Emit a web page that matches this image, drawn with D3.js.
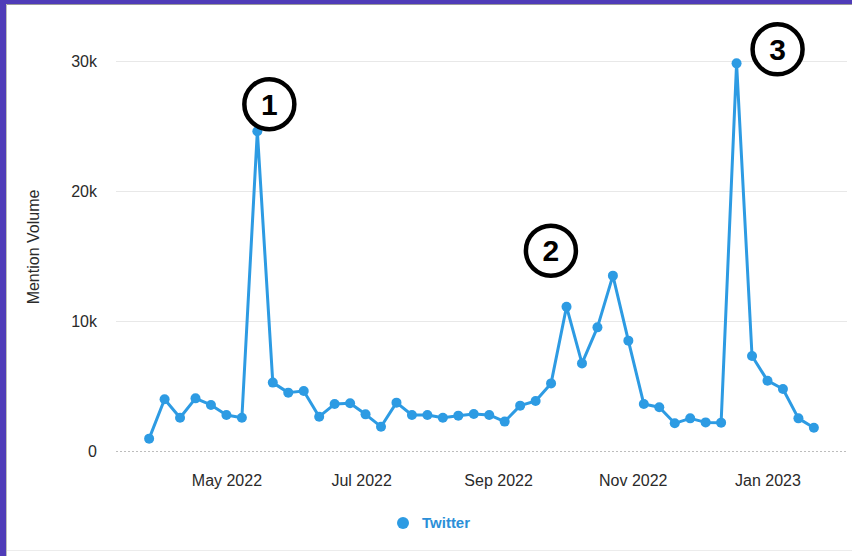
<!DOCTYPE html>
<html>
<head>
<meta charset="utf-8">
<script src="https://cdn.jsdelivr.net/npm/d3@7"></script>
<style>
  html, body { margin: 0; padding: 0; background: #fff; }
  svg { display: block; font-family: "Liberation Sans", Arial, Helvetica, sans-serif; }
</style>
</head>
<body>
<svg id="chart" width="852" height="556"></svg>
<script>
// Weekly Twitter mention volume
const weeks = [
  "2022-03-27", "2022-04-03", "2022-04-10", "2022-04-17", "2022-04-24",
  "2022-05-01", "2022-05-08", "2022-05-15", "2022-05-22", "2022-05-29",
  "2022-06-05", "2022-06-12", "2022-06-19", "2022-06-26",
  "2022-07-03", "2022-07-10", "2022-07-17", "2022-07-24", "2022-07-31",
  "2022-08-07", "2022-08-14", "2022-08-21", "2022-08-28",
  "2022-09-04", "2022-09-11", "2022-09-18", "2022-09-25",
  "2022-10-02", "2022-10-09", "2022-10-16", "2022-10-23", "2022-10-30",
  "2022-11-06", "2022-11-13", "2022-11-20", "2022-11-27",
  "2022-12-04", "2022-12-11", "2022-12-18", "2022-12-25",
  "2023-01-01", "2023-01-08", "2023-01-15", "2023-01-22"
];
const twitter = [
  950, 3980, 2560, 4050, 3540,
  2770, 2560, 24600, 5260, 4490,
  4620, 2640, 3610, 3670,
  2820, 1870, 3720, 2770, 2770,
  2560, 2720, 2850, 2770,
  2260, 3490, 3850, 5200,
  11100, 6740, 9510, 13490, 8490,
  3610, 3360, 2130, 2510,
  2200, 2180, 29820, 7310,
  5410, 4770, 2510, 1790
];
const seriesName = "Twitter";
const yTicks = [0, 10000, 20000, 30000];
const xTicks = ["2022-05-01", "2022-07-01", "2022-09-01", "2022-11-01", "2023-01-01"];
const yTitle = "Mention Volume";
// numbered call-outs: which week each one marks
const callouts = [
  { label: "1", week: "2022-05-15" },
  { label: "2", week: "2022-10-23" },
  { label: "3", week: "2022-12-18" }
];

const parse = d3.utcParse("%Y-%m-%d");
const data = weeks.map((w, i) => ({ date: parse(w), value: twitter[i] }));

const svg = d3.select("#chart");
const blue = "#2d9be3";

// card frame
svg.append("rect").attr("x", 0).attr("y", 0).attr("width", 852).attr("height", 556).attr("fill", "#fff");
svg.append("line").attr("x1", 0).attr("x2", 852).attr("y1", 550.5).attr("y2", 550.5)
  .attr("stroke", "#ececec").attr("stroke-width", 1);
svg.append("rect").attr("x", 0).attr("y", 0).attr("width", 852).attr("height", 4).attr("fill", "#4f3cb8");
svg.append("rect").attr("x", 0).attr("y", 0).attr("width", 6).attr("height", 556).attr("fill", "#4f3cb8");
svg.append("line").attr("x1", 6).attr("x2", 852).attr("y1", 4.5).attr("y2", 4.5)
  .attr("stroke", "#9a9a9a").attr("stroke-width", 1);
svg.append("line").attr("x1", 6.5).attr("x2", 6.5).attr("y1", 4).attr("y2", 556)
  .attr("stroke", "#bdbdbd").attr("stroke-width", 1);

const x = d3.scaleUtc()
  .domain([parse("2022-03-12"), parse("2023-02-06")])
  .range([116, 847]);
const y = d3.scaleLinear().domain([0, 30000]).range([451, 61]);

// horizontal grid
const grid = svg.append("g");
grid.selectAll("line").data(yTicks).join("line")
  .attr("x1", 116).attr("x2", 847)
  .attr("y1", d => Math.round(y(d)) + 0.5).attr("y2", d => Math.round(y(d)) + 0.5)
  .attr("stroke", d => d === 0 ? "#bdbdbd" : "#e8e8e8")
  .attr("stroke-width", 1)
  .attr("stroke-dasharray", d => d === 0 ? "2,2" : null);

// y axis labels
const yAxis = d3.axisLeft(y).tickValues(yTicks)
  .tickFormat(d => d === 0 ? "0" : (d / 1000) + "k")
  .tickSize(0).tickPadding(0);
svg.append("g").attr("transform", "translate(97,0)").call(yAxis)
  .call(g => g.select(".domain").remove())
  .call(g => g.selectAll("text")
    .attr("fill", "#2a2a2a").attr("font-size", 16)
    .attr("font-family", "Liberation Sans, Arial, sans-serif")
    .attr("dy", "0.35em"));

svg.append("text")
  .attr("transform", "translate(39,247) rotate(-90)")
  .attr("text-anchor", "middle")
  .attr("font-size", 16).attr("fill", "#2a2a2a")
  .text(yTitle);

// x axis labels
const xAxis = d3.axisBottom(x).tickValues(xTicks.map(parse))
  .tickFormat(d3.utcFormat("%b %Y"))
  .tickSize(0).tickPadding(0);
svg.append("g").attr("transform", "translate(0,486)").call(xAxis)
  .call(g => g.select(".domain").remove())
  .call(g => g.selectAll("text")
    .attr("fill", "#2a2a2a").attr("font-size", 16)
    .attr("font-family", "Liberation Sans, Arial, sans-serif")
    .attr("dy", "0"));

// series line and markers
const line = d3.line().x(d => x(d.date)).y(d => y(d.value));
svg.append("path").datum(data)
  .attr("d", line)
  .attr("fill", "none").attr("stroke", blue)
  .attr("stroke-width", 3).attr("stroke-linejoin", "round");
svg.append("g").selectAll("circle").data(data).join("circle")
  .attr("cx", d => x(d.date)).attr("cy", d => y(d.value))
  .attr("r", 5).attr("fill", blue);

// numbered call-outs near the peaks
const offsets = { "1": [12, -27], "2": [-62, -25], "3": [41, -14] };
const co = svg.append("g");
callouts.forEach(c => {
  const d = data.find(p => +p.date === +parse(c.week));
  const cx = x(d.date) + offsets[c.label][0];
  const cy = y(d.value) + offsets[c.label][1];
  co.append("circle").attr("cx", cx).attr("cy", cy).attr("r", 25)
    .attr("fill", "#fff").attr("stroke", "#000").attr("stroke-width", 4.5);
  co.append("text").attr("x", cx).attr("y", cy)
    .attr("text-anchor", "middle").attr("dy", "0.36em")
    .attr("font-size", 30).attr("font-weight", "bold").attr("fill", "#000")
    .text(c.label);
});

// legend
const lg = svg.append("g");
lg.append("circle").attr("cx", 403).attr("cy", 523).attr("r", 6).attr("fill", blue);
lg.append("text").attr("x", 422).attr("y", 523).attr("dy", "0.35em")
  .attr("font-size", 15).attr("font-weight", "bold").attr("fill", "#2b8fd8")
  .text(seriesName);
</script>
</body>
</html>
